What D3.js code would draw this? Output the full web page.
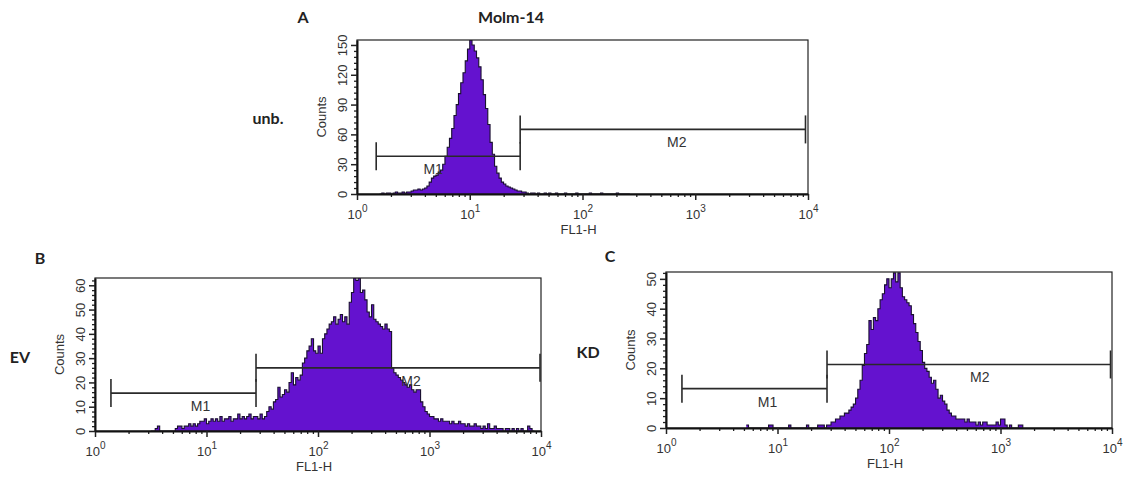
<!DOCTYPE html>
<html>
<head>
<meta charset="utf-8">
<script src="https://cdn.jsdelivr.net/npm/d3@7"></script>
<style>
  body { margin: 0; background: #fff; }
  svg { display: block; }
  .tick text { font-family: "Liberation Sans", Arial, sans-serif; fill: #333; }
  .lbl { font-family: Lato, "Open Sans", sans-serif; font-weight: bold; fill: #222; }
</style>
</head>
<body>
<div id="chart"></div>
<script>
// Histogram counts, 50 channels per decade (channel i spans 10^(i/50) .. 10^((i+1)/50))
// each series starts at its own first channel
const startA = 10;
const countsA = [0,1,0,1,1,0,1,2,1,1,2,1,2,2,3,
  4,4,5,4,5,6,8,
  12,16,18,19,22,24,30,38,47,56,66,79,90,101,112,122,134,146,155,150,144,137,128,115,100,86,70,52,40,28,21,16,12,10,8,7,6,5,4,3,3,2,2,
  1,0,1,1,0,1,0,0,1,0,1,0,0,1,0,0,0,1,0,0,0,0,1,0,0,0,0,0,1,0,0,0,0,1,0,0,0,0,0,0,1,0,0,0,0,0];

const startB = 25;
const countsB = [0,0,1,2,0,0,0,0,0,0,0,
  1,2,2,1,2,2,3,2,3,2,3,4,4,5,3,4,5,4,5,4,6,4,5,5,6,4,5,5,7,5,6,5,6,7,5,6,6,5,7,5,
  6,8,10,9,12,13,18,14,15,17,16,20,24,19,22,21,23,28,30,33,35,38,33,32,
  35,32,38,40,42,44,45,47,44,46,48,45,47,44,53,57,63,62,63,57,58,54,49,47,52,46,45,44,43,42,44,42,41,
  26,24,23,22,21,20,19,18,19,17,16,17,17,12,10,8,7,6,6,5,5,4,5,4,4,4,3,4,3,3,4,3,3,2,3,2,2,3,2,2,1,2,1,3,1,1,2,1,1,1,0,1,1,0,1,0,1,0,1,0,0,2,1,0];

const startC = 36;
const countsC = [1,0,0,0,0,0,0,0,0,0,1,1,0,0,0,0,0,0,0,1,0,0,0,0,0,0,0,1,0,0,0,0,1,1,1,0,1,1,2,
  2,3,3,4,4,5,5,6,7,8,10,13,16,21,25,28,36,33,37,36,40,43,45,48,50,47,50,52,49,52,
  47,44,43,42,41,38,35,32,29,26,22,20,19,17,15,16,13,10,11,9,8,6,5,4,4,3,3,3,3,2,
  3,2,2,2,1,2,1,2,2,1,1,1,1,2,1,3,3,1,0,1,0,0,0,1,1];

// Marker gates: [low, high] in FL1-H units, and the count level of the bar
const gateNames = ["M1", "M2"];
const gatesA = [[1.48, 28], [28, 9500]];
const gateLevelsA = [38, 65];
const gatesB = [[1.39, 27.8], [27.8, 9800]];
const gateLevelsB = [15.6, 26];
const gatesC = [[1.39, 27.8], [27.8, 9700]];
const gateLevelsC = [13.2, 21.3];

// Axis ticks
const decades = [1, 10, 100, 1000, 10000];
const yMaxA = 155, yTicksA = [0, 30, 60, 90, 120, 150], yMinorStepA = 6;
const yMaxB = 63, yTicksB = [0, 10, 20, 30, 40, 50, 60], yMinorStepB = 2;
const yMaxC = 52.3, yTicksC = [0, 10, 20, 30, 40, 50], yMinorStepC = 2;

const width = 1126, height = 477;
const svg = d3.select("#chart").append("svg")
  .attr("width", width)
  .attr("height", height);

function drawPanel(cfg) {
  let x = d3.scaleLog().domain([1, 10000]).range([cfg.left, cfg.right]);
  let y = d3.scaleLinear().domain([0, cfg.yMax]).range([cfg.bottom, cfg.top]);
  let g = svg.append("g");

  // clip to plot box
  let clipId = "clip" + cfg.id;
  g.append("clipPath").attr("id", clipId)
    .append("rect")
    .attr("x", cfg.left).attr("y", cfg.top)
    .attr("width", cfg.right - cfg.left).attr("height", cfg.bottom - cfg.top);

  // histogram as stepped area
  let pts = cfg.counts.map((c, k) => ({ ch: cfg.start + k, c: c }));
  pts.push({ ch: cfg.start + cfg.counts.length, c: 0 });
  let xch = ch => x(Math.pow(10, ch / 50));

  let area = d3.area()
    .x(d => xch(d.ch))
    .y0(y(0))
    .y1(d => y(d.c))
    .curve(d3.curveStepAfter);
  let line = d3.line()
    .x(d => xch(d.ch))
    .y(d => y(d.c))
    .curve(d3.curveStepAfter);

  let hist = g.append("g").attr("clip-path", `url(#${clipId})`);
  hist.append("path")
    .datum(pts)
    .attr("d", area)
    .attr("fill", "#6412cf");
  hist.append("path")
    .datum(pts)
    .attr("d", line)
    .attr("fill", "none")
    .attr("stroke", "#1a1030")
    .attr("stroke-width", 1.1);

  // frame (top and right thin)
  g.append("rect")
    .attr("x", cfg.left).attr("y", cfg.top)
    .attr("width", cfg.right - cfg.left).attr("height", cfg.bottom - cfg.top)
    .attr("fill", "none")
    .attr("stroke", "#222")
    .attr("stroke-width", 1.2);

  // x axis, major + minor
  let minors = [];
  decades.slice(0, 4).forEach(d => { for (let m = 2; m < 10; m++) minors.push(d * m); });
  g.append("g")
    .attr("transform", `translate(0, ${cfg.bottom})`)
    .call(d3.axisBottom(x).tickValues(minors).tickSize(3).tickFormat(""))
    .call(a => a.select(".domain").remove())
    .selectAll("line").attr("stroke", "#222").attr("stroke-width", 1.3);
  let xAxis = g.append("g")
    .attr("transform", `translate(0, ${cfg.bottom})`)
    .call(d3.axisBottom(x).tickValues(decades).tickSize(6).tickSizeOuter(0).tickFormat(""));
  xAxis.select(".domain").attr("stroke", "#111").attr("stroke-width", 2);
  xAxis.selectAll("line").attr("stroke", "#222").attr("stroke-width", 1.5);
  xAxis.selectAll(".tick").append("text")
    .attr("y", 25)
    .attr("text-anchor", "middle")
    .attr("font-size", 13)
    .each(function (d) {
      let t = d3.select(this);
      t.append("tspan").text("10");
      t.append("tspan")
        .attr("dy", -7)
        .attr("font-size", 10)
        .text(Math.round(Math.log10(d)));
    });

  // y axis, major + minor
  let yMinors = d3.range(0, cfg.yMax + 0.001, cfg.yMinorStep).filter(v => !cfg.yTicks.includes(v));
  g.append("g")
    .attr("transform", `translate(${cfg.left}, 0)`)
    .call(d3.axisLeft(y).tickValues(yMinors).tickSize(3).tickFormat(""))
    .call(a => a.select(".domain").remove())
    .selectAll("line").attr("stroke", "#222").attr("stroke-width", 1.3);
  let yAxis = g.append("g")
    .attr("transform", `translate(${cfg.left}, 0)`)
    .call(d3.axisLeft(y).tickValues(cfg.yTicks).tickSize(6).tickSizeOuter(0));
  yAxis.select(".domain").attr("stroke", "#111").attr("stroke-width", 2);
  yAxis.selectAll("line").attr("stroke", "#222").attr("stroke-width", 1.5);
  yAxis.selectAll(".tick text")
    .attr("x", null).attr("dy", null)
    .attr("font-size", 13)
    .attr("text-anchor", "middle")
    .attr("transform", "translate(-10, 0) rotate(-90)");

  // axis titles
  g.append("text")
    .attr("x", (cfg.left + cfg.right) / 2 - 4)
    .attr("y", cfg.bottom + 40)
    .attr("text-anchor", "middle")
    .attr("font-family", "Liberation Sans, Arial, sans-serif")
    .attr("font-size", 13)
    .attr("fill", "#333")
    .text("FL1-H");
  g.append("text")
    .attr("transform", `translate(${cfg.left - 31}, ${(cfg.top + cfg.bottom) / 2}) rotate(-90)`)
    .attr("text-anchor", "middle")
    .attr("font-family", "Liberation Sans, Arial, sans-serif")
    .attr("font-size", 13)
    .attr("fill", "#333")
    .text("Counts");

  // marker gates
  cfg.gates.forEach((gt, k) => {
    let x0 = x(gt[0]), x1 = x(gt[1]), yy = y(cfg.levels[k]);
    let mk = g.append("g").attr("stroke", "#2a2a2a").attr("stroke-width", 1.6);
    mk.append("line").attr("x1", x0).attr("x2", x1).attr("y1", yy).attr("y2", yy);
    mk.append("line").attr("x1", x0).attr("x2", x0).attr("y1", yy - 14).attr("y2", yy + 14);
    mk.append("line").attr("x1", x1).attr("x2", x1).attr("y1", yy - 14).attr("y2", yy + 14);
    g.append("text")
      .attr("x", x(Math.sqrt(gt[0] * gt[1])) + cfg.labelDx[k])
      .attr("y", yy + 18)
      .attr("text-anchor", "middle")
      .attr("font-family", "Liberation Sans, Arial, sans-serif")
      .attr("font-size", 14)
      .attr("fill", "#333")
      .text(gateNames[k]);
  });
}

drawPanel({ id: "A", left: 357, right: 808, top: 40, bottom: 194,
  yMax: yMaxA, yTicks: yTicksA, yMinorStep: yMinorStepA,
  start: startA, counts: countsA, gates: gatesA, levels: gateLevelsA, labelDx: [-15, 14] });
drawPanel({ id: "B", left: 95, right: 541, top: 278, bottom: 431,
  yMax: yMaxB, yTicks: yTicksB, yMinorStep: yMinorStepB,
  start: startB, counts: countsB, gates: gatesB, levels: gateLevelsB, labelDx: [17, 13] });
drawPanel({ id: "C", left: 666, right: 1112, top: 272, bottom: 428,
  yMax: yMaxC, yTicks: yTicksC, yMinorStep: yMinorStepC,
  start: startC, counts: countsC, gates: gatesC, levels: gateLevelsC, labelDx: [13, 11] });

// panel letters and row labels
const labels = [
  { t: "A", x: 303, y: 17 }, { t: "Molm-14", x: 511, y: 17 },
  { t: "unb.", x: 268, y: 118 },
  { t: "B", x: 40, y: 258 }, { t: "EV", x: 20, y: 357 },
  { t: "C", x: 610, y: 256 }, { t: "KD", x: 588, y: 352 }
];
svg.selectAll("text.lbl")
  .data(labels)
  .join("text")
  .attr("class", "lbl")
  .attr("x", d => d.x)
  .attr("y", d => d.y)
  .attr("dy", "0.35em")
  .attr("text-anchor", "middle")
  .attr("font-size", 16)
  .text(d => d.t);
</script>
</body>
</html>
